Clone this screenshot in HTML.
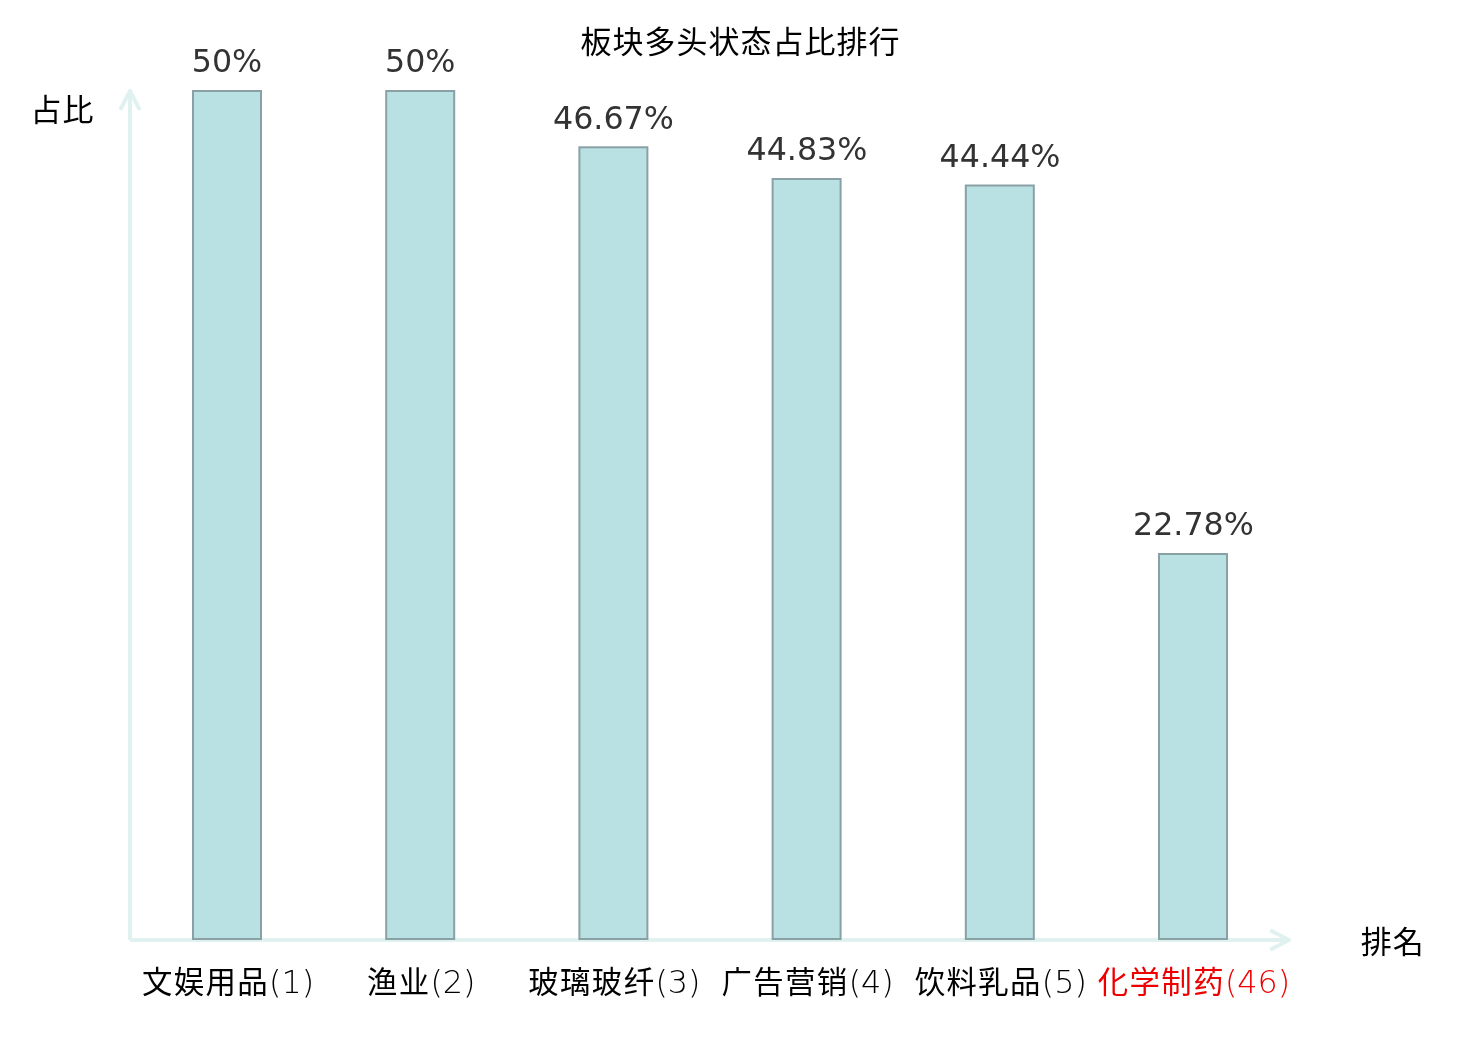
<!DOCTYPE html>
<html lang="zh">
<head>
<meta charset="utf-8">
<title>板块多头状态占比排行</title>
<style>
html,body{margin:0;padding:0;background:#fff;}
body{width:1480px;height:1040px;overflow:hidden;position:relative;}
svg{position:absolute;left:0;top:0;display:block;}
.cjk{font-family:"Liberation Sans","Noto Sans CJK JP",sans-serif;font-size:31px;letter-spacing:1px;font-weight:400;fill:#000;}
.num{font-family:"DejaVu Sans","Liberation Sans",sans-serif;font-size:31.7px;fill:#333;}
.xl{font-family:"Liberation Sans","Noto Sans CJK JP",sans-serif;font-size:30.4px;letter-spacing:1.4px;font-weight:400;fill:#000;}
.xl .d{font-family:"DejaVu Sans Light","DejaVu Sans",sans-serif;font-weight:200;font-size:31.8px;letter-spacing:0;}
.red{fill:#ee0000;}
</style>
</head>
<body>
<svg lang="" width="1480" height="1040" viewBox="0 0 1480 1040">
  <rect x="0" y="0" width="1480" height="1040" fill="#ffffff"/>
  <!-- axes arrows -->
  <g fill="none" stroke="#dff2f0" stroke-width="4" stroke-linecap="butt" stroke-linejoin="round">
    <path d="M130 940 L130 91"/>
    <path d="M120.2 109.8 L130 91 L139.8 109.8"/>
    <path d="M130 940 L1289 940"/>
    <path d="M1270.2 930.2 L1289 940 L1270.2 949.8"/>
  </g>
  <!-- bars -->
  <g fill="#b9e0e3" stroke="#89a1a5" stroke-width="2">
    <rect x="193" y="91" width="68" height="848"/>
    <rect x="386.2" y="91" width="68" height="848"/>
    <rect x="579.4" y="147.3" width="68" height="791.7"/>
    <rect x="772.6" y="179" width="68" height="760"/>
    <rect x="965.8" y="185.5" width="68" height="753.5"/>
    <rect x="1159" y="554" width="68" height="385"/>
  </g>
  <!-- title -->
  <text class="cjk" x="740.5" y="53.2" text-anchor="middle">板块多头状态占比排行</text>
  <text class="cjk" x="62.6" y="121.2" text-anchor="middle">占比</text>
  <text class="cjk" x="1392.8" y="953.3" text-anchor="middle">排名</text>
  <!-- values -->
  <text class="num" x="227" y="72" text-anchor="middle">50%</text>
  <text class="num" x="420.2" y="72" text-anchor="middle">50%</text>
  <text class="num" x="613.4" y="129" text-anchor="middle">46.67%</text>
  <text class="num" x="806.9" y="160" text-anchor="middle">44.83%</text>
  <text class="num" x="1000" y="167" text-anchor="middle">44.44%</text>
  <text class="num" x="1193.4" y="535" text-anchor="middle">22.78%</text>
  <!-- x labels -->
  <text class="xl" x="228" y="993.5" text-anchor="middle"><tspan dy="-0.8">文娱用品</tspan><tspan class="d" dy="0.6">(1)</tspan></text>
  <text class="xl" x="421.2" y="993.5" text-anchor="middle"><tspan dy="-0.8">渔业</tspan><tspan class="d" dy="0.6">(2)</tspan></text>
  <text class="xl" x="614.4" y="993.5" text-anchor="middle"><tspan dy="-0.8">玻璃玻纤</tspan><tspan class="d" dy="0.6">(3)</tspan></text>
  <text class="xl" x="807.6" y="993.5" text-anchor="middle"><tspan dy="-0.8">广告营销</tspan><tspan class="d" dy="0.6">(4)</tspan></text>
  <text class="xl" x="1000.8" y="993.5" text-anchor="middle"><tspan dy="-0.8">饮料乳品</tspan><tspan class="d" dy="0.6">(5)</tspan></text>
  <text class="xl red" x="1194" y="993.5" text-anchor="middle"><tspan dy="-0.8">化学制药</tspan><tspan class="d" dy="0.6">(46)</tspan></text>
</svg>
</body>
</html>
